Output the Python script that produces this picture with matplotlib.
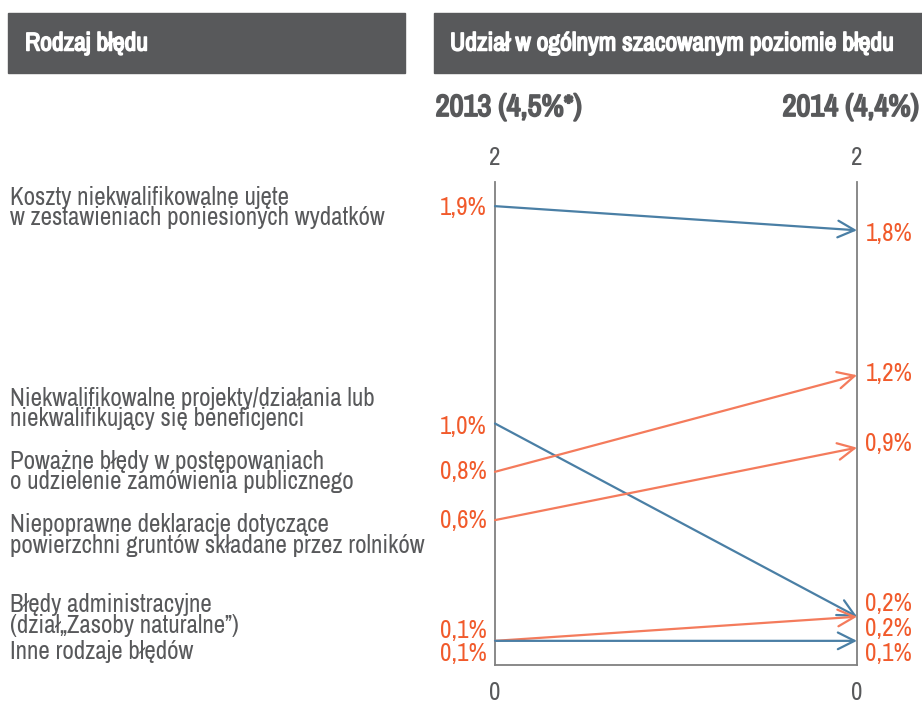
import matplotlib
matplotlib.use("Agg")
import matplotlib.pyplot as plt
import matplotlib.patheffects as pe
from matplotlib import font_manager as fm
from matplotlib.patches import Rectangle
from matplotlib.transforms import blended_transform_factory

# szukamy wąskiego kroju (jak w oryginale), inaczej Liberation Sans
waskie = {f.name for f in fm.fontManager.ttflist
          if f.stretch in ('condensed', 'semi-condensed', 'extra-condensed')}
if 'Noto Sans' in waskie:
    rodzina, rozciag, skala = 'Noto Sans', 'condensed', 1.0
elif waskie:
    rodzina, rozciag, skala = sorted(waskie)[0], 'condensed', 1.0
else:
    rodzina, rozciag, skala = 'Liberation Sans', 'normal', 0.87
plt.rcParams['font.family'] = [rodzina, 'DejaVu Sans']
plt.rcParams['font.stretch'] = rozciag

# Dane
kategorie = [
    "Koszty niekwalifikowalne ujęte\nw zestawieniach poniesionych wydatków",
    "Niekwalifikowalne projekty/działania lub\nniekwalifikujący się beneficjenci",
    "Poważne błędy w postępowaniach\no udzielenie zamówienia publicznego",
    "Niepoprawne deklaracje dotyczące\npowierzchni gruntów składane przez rolników",
    "Błędy administracyjne\n(dział\u201eZasoby naturalne\u201d)",
    "Inne rodzaje błędów",
]
udzial_2013 = [1.9, 1.0, 0.8, 0.6, 0.1, 0.1]
udzial_2014 = [1.8, 0.2, 1.2, 0.9, 0.2, 0.1]
lata = ["2013 (4,5%*)", "2014 (4,4%)"]
naglowki = ["Rodzaj błędu", "Udział w ogólnym szacowanym poziomie błędu"]

# Wygląd
niebieski = "#4a7fa5"
pomaranczowy = "#f47b5c"
czerwony = "#f15a2b"
szary = "#58595b"
kolory = [niebieski, niebieski, pomaranczowy, pomaranczowy, pomaranczowy, niebieski]
# przesunięcia etykiet (px) żeby się nie nakładały
dy_lewe = [-1, -3, 0, 0, 10, -13]
dy_prawe = [-3, 13, 2, 4, -12, -13]
y_kategorii = [1.895, 1.063, 0.80, 0.538, 0.207, 0.054]

fs = 18 * skala
# pogrubienie obrysem (wąski krój nie ma wersji bold)
gruby_bialy = [pe.withStroke(linewidth=1.1, foreground='white')]
gruby_szary = [pe.withStroke(linewidth=1.3, foreground=szary)]

fig = plt.figure(figsize=(9.22, 7.04), dpi=100)
W, H = 922, 704
ax = fig.add_axes([495 / W, (H - 665) / H, (857 - 495) / W, (665 - 182) / H])
ax.set_xlim(0, 1)
ax.set_ylim(0, 2)
ax.set_xticks([])
ax.set_yticks([])
for s in ['left', 'right', 'bottom']:
    ax.spines[s].set_color('#808080')
    ax.spines[s].set_linewidth(1.3)
ax.spines['top'].set_visible(False)

# Strzałki
for a, b, c in zip(udzial_2013, udzial_2014, kolory):
    ax.annotate("", xy=(1, b), xytext=(0, a),
                arrowprops=dict(arrowstyle='->,head_length=0.6,head_width=0.3',
                                color=c, lw=1.6, shrinkA=0, shrinkB=0,
                                mutation_scale=20))

fmt = lambda v: f"{v:.1f}%".replace('.', ',')
for a, b, d1, d2 in zip(udzial_2013, udzial_2014, dy_lewe, dy_prawe):
    ax.annotate(fmt(a), xy=(0, a), xytext=(-6, d1 * 0.72), textcoords='offset points',
                ha='right', va='center', color=czerwony, fontsize=fs, annotation_clip=False)
    ax.annotate(fmt(b), xy=(1, b), xytext=(6, d2 * 0.72), textcoords='offset points',
                ha='left', va='center', color=czerwony, fontsize=fs, annotation_clip=False)

# Etykiety kategorii
tr = blended_transform_factory(fig.transFigure, ax.transData)
for k, y in zip(kategorie, y_kategorii):
    ax.text(10 / W, y, k, transform=tr, ha='left', va='center', color=szary,
            fontsize=fs, linespacing=0.85, clip_on=False)

# Skala 2 / 0
for x in (0, 1):
    ax.text(x, 2.1, "2", ha='center', va='center', color=szary, fontsize=fs, clip_on=False)
    ax.text(x, -0.115, "0", ha='center', va='center', color=szary, fontsize=fs, clip_on=False)

# Lata
fig.text(509 / W, 1 - 107 / H, lata[0], ha='center', va='center', color=szary,
         fontsize=22 * skala, fontweight='bold', path_effects=gruby_szary)
fig.text(851 / W, 1 - 107 / H, lata[1], ha='center', va='center', color=szary,
         fontsize=22 * skala, fontweight='bold', path_effects=gruby_szary)

# Nagłówki
fig.patches.append(Rectangle((8 / W, 1 - 73 / H), (405 - 8) / W, 60 / H,
                             transform=fig.transFigure, color=szary, zorder=0))
fig.patches.append(Rectangle((434 / W, 1 - 73 / H), (922 - 434) / W, 60 / H,
                             transform=fig.transFigure, color=szary, zorder=0))
fig.text(25 / W, 1 - 43 / H, naglowki[0], ha='left', va='center', color='white',
         fontsize=18.5 * skala, fontweight='bold', path_effects=gruby_bialy)
fig.text(450 / W, 1 - 43 / H, naglowki[1], ha='left', va='center', color='white',
         fontsize=18.5 * skala, fontweight='bold', path_effects=gruby_bialy)

fig.savefig("out.png", dpi=100)
